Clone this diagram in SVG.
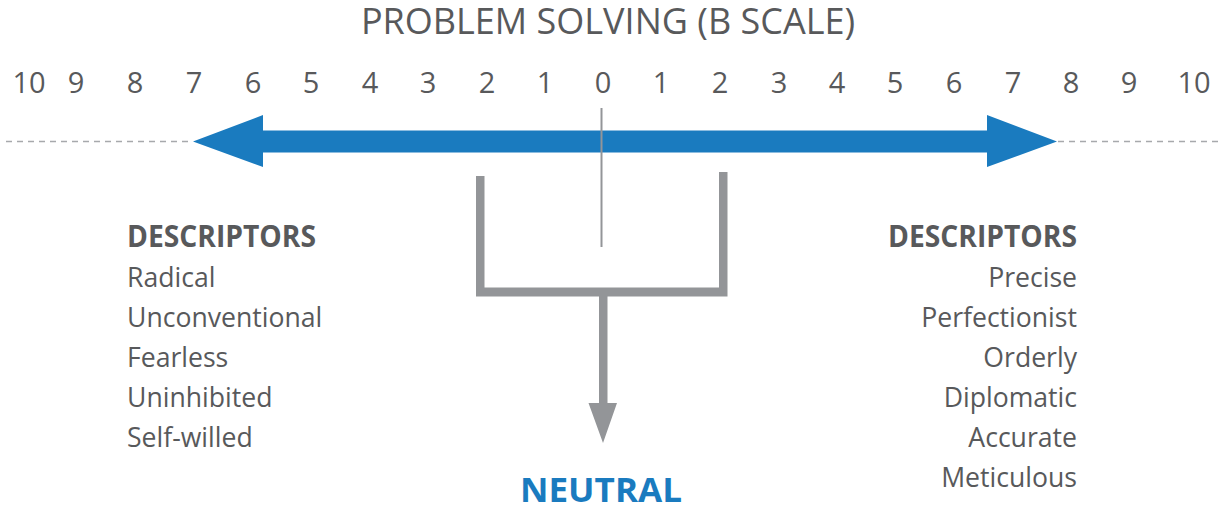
<svg xmlns="http://www.w3.org/2000/svg" width="1223" height="510" viewBox="0 0 1223 510">
<style>
text{font-family:"Open Sans","Noto Sans","Liberation Sans",sans-serif;fill:#58595b}
.num{font-size:29px;text-anchor:middle}
.hd{font-size:31px;font-weight:700}
.it{font-size:26.6px}
.r{text-anchor:end}
.dash{stroke:#a7a9ac;stroke-width:1.5;stroke-dasharray:6 5;fill:none}
.gray{fill:#939598}
</style>
<rect width="1223" height="510" fill="#fff"/>
<g id="title"><text x="608" y="34" font-size="36" text-anchor="middle">PROBLEM SOLVING (B SCALE)</text></g>
<g id="scale">
<text class="num" x="29" y="93">10</text>
<text class="num" x="76" y="93">9</text>
<text class="num" x="135" y="93">8</text>
<text class="num" x="194" y="93">7</text>
<text class="num" x="253" y="93">6</text>
<text class="num" x="311" y="93">5</text>
<text class="num" x="370" y="93">4</text>
<text class="num" x="428" y="93">3</text>
<text class="num" x="487" y="93">2</text>
<text class="num" x="545" y="93">1</text>
<text class="num" x="603" y="93">0</text>
<text class="num" x="661" y="93">1</text>
<text class="num" x="720" y="93">2</text>
<text class="num" x="779" y="93">3</text>
<text class="num" x="837" y="93">4</text>
<text class="num" x="895" y="93">5</text>
<text class="num" x="954" y="93">6</text>
<text class="num" x="1013" y="93">7</text>
<text class="num" x="1071" y="93">8</text>
<text class="num" x="1129" y="93">9</text>
<text class="num" x="1194" y="93">10</text>
</g>
<g id="connectors">
<line class="dash" x1="6" y1="141.5" x2="192" y2="141.5"/>
<line class="dash" x1="1058" y1="141.5" x2="1218" y2="141.5"/>
<polygon fill="#1a7bbf" points="193,141.5 263,115 263,130.5 987,130.5 987,115 1057,141.5 987,167 987,152.5 263,152.5 263,167"/>
<line x1="601.5" y1="108" x2="601.5" y2="247" stroke="#939598" stroke-width="2"/>
<path class="gray" d="M476,176 H484.5 V287.5 H719 V172 H727.5 V296.5 H607.5 V403 H617 L603,443 L588.5,403 H599 V296.5 H476 Z"/>
</g>
<g id="left-descriptors">
<text class="hd" x="127" y="247" textLength="189" lengthAdjust="spacingAndGlyphs">DESCRIPTORS</text>
<text class="it" x="127" y="287">Radical</text>
<text class="it" x="127" y="327">Unconventional</text>
<text class="it" x="127" y="367">Fearless</text>
<text class="it" x="127" y="407">Uninhibited</text>
<text class="it" x="127" y="447">Self-willed</text>
</g>
<g id="right-descriptors">
<text class="hd r" x="1077" y="247" textLength="189" lengthAdjust="spacingAndGlyphs">DESCRIPTORS</text>
<text class="it r" x="1077" y="287">Precise</text>
<text class="it r" x="1077" y="327">Perfectionist</text>
<text class="it r" x="1077" y="367">Orderly</text>
<text class="it r" x="1077" y="407">Diplomatic</text>
<text class="it r" x="1077" y="447">Accurate</text>
<text class="it r" x="1077" y="487">Meticulous</text>
</g>
<g id="neutral"><text x="601" y="502" font-size="34" font-weight="700" text-anchor="middle" style="fill:#1a7bbf" textLength="162" lengthAdjust="spacingAndGlyphs">NEUTRAL</text></g>
</svg>
